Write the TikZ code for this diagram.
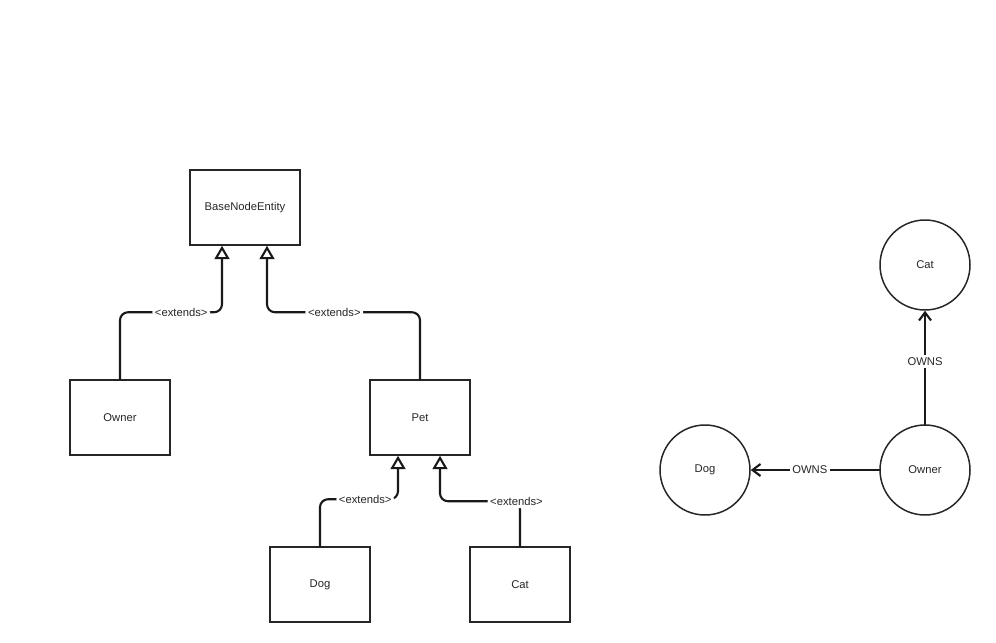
\documentclass[tikz,border=0pt]{standalone}
\usepackage{fontspec}
\setmainfont{Liberation Sans}
\usepackage{tikz}
\usetikzlibrary{arrows.meta}
\usepackage{xcolor}

\begin{document}
\begin{tikzpicture}[x=0.02cm,y=-0.02cm,font=\fontsize{6.4}{7}\selectfont,line cap=round,
  cls/.style={draw=black!85,line width=0.85pt,minimum width=2cm,minimum height=1.5cm,text=black!85},
  ent/.style={draw=black!85,line width=0.85pt,circle,minimum size=1.8cm,text=black!85},
  ext/.style={draw=black!90,line width=1.2pt,rounded corners=0.16cm,-{Triangle[open,length=0.27cm,width=0.3cm]}},
  rel/.style={draw=black!90,line width=1.2pt,-{Straight Barb[length=0.16cm,width=0.24cm]}},
  lbl/.style={fill=white,inner sep=1.5pt,text=black!85}]
\useasboundingbox (0,0) rectangle (996,642);
% class diagram
\node[cls,minimum width=2.2cm] (base) at (245,207.5) {BaseNodeEntity};
\node[cls] (own) at (120,417.5) {Owner};
\node[cls] (pet) at (420,417.5) {Pet};
\node[cls] (dog) at (320,584.5) {Dog};
\node[cls] (cat) at (520,584.5) {Cat};
\draw[ext] (own.north) -- ++(0,-67) -| node[lbl,pos=0.3]{<extends>} ([xshift=-0.46cm]base.south);
\draw[ext] (pet.north) -- ++(0,-67) -| node[lbl,pos=0.28]{<extends>} ([xshift=0.44cm]base.south);
\draw[ext] (dog.north) -- ++(0,-47) -| node[lbl,pos=0.29]{<extends>} ([xshift=-0.44cm]pet.south);
\draw[ext] (cat.north) -- ++(0,-45) node[lbl,xshift=-2pt]{<extends>} -| ([xshift=0.4cm]pet.south);
% graph
\node[ent] (gcat) at (925,265) {Cat};
\node[ent] (gdog) at (705,470) {Dog};
\node[ent] (gown) at (925,470) {Owner};
\draw[rel] (gown) -- node[lbl,pos=0.54]{OWNS} (gdog);
\draw[rel] (gown) -- node[lbl,pos=0.55]{OWNS} (gcat);
\end{tikzpicture}
\end{document}
